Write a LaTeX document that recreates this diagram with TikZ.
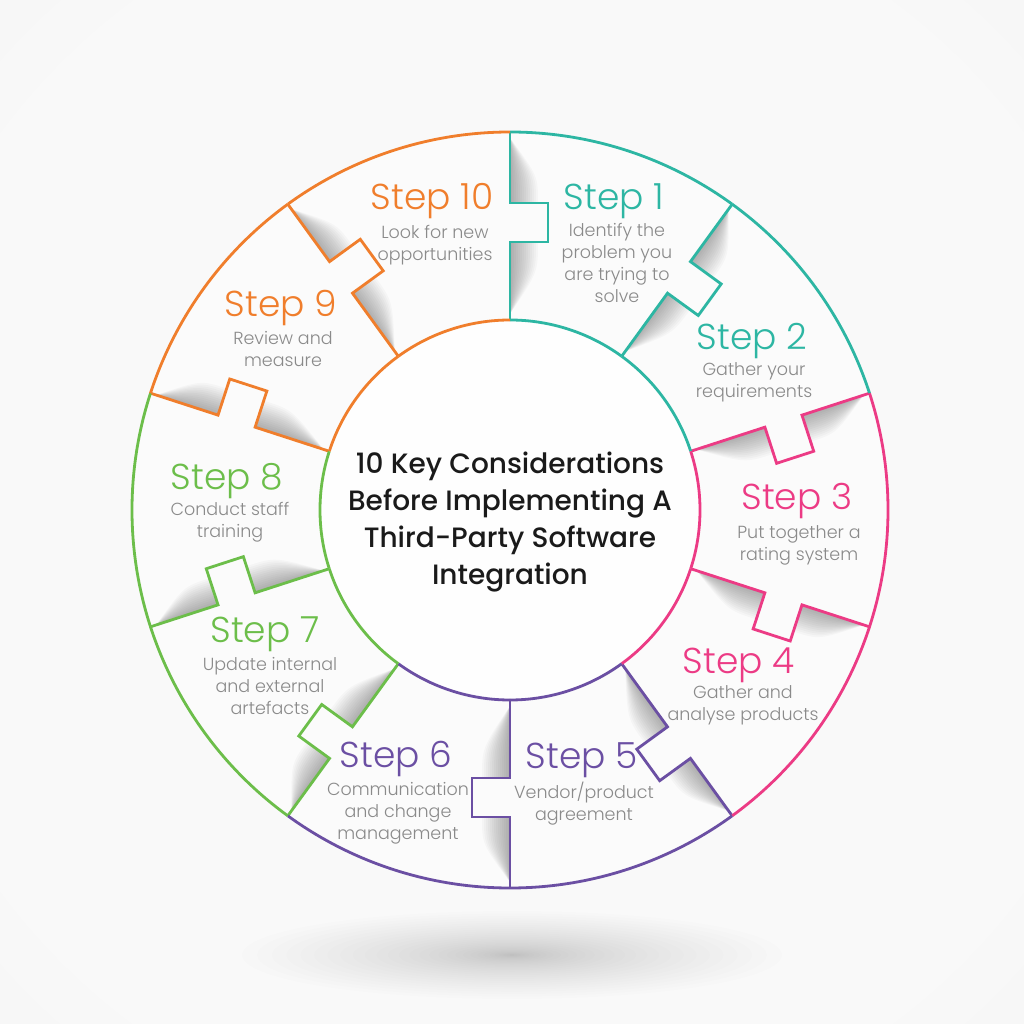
\documentclass[tikz,border=0pt]{standalone}
\usepackage{fontspec}
\setmainfont{Poppins}
\newfontfamily\poplight{Poppins Light}
\newfontfamily\popmed{Poppins Medium}
\definecolor{cteal}{HTML}{2DB6A3}
\definecolor{cpink}{HTML}{EC3B85}
\definecolor{cpurple}{HTML}{6B4FA3}
\definecolor{cgreen}{HTML}{6CBE4A}
\definecolor{corange}{HTML}{F07E2C}
\definecolor{descgray}{HTML}{8A8A8A}
\definecolor{titleblack}{HTML}{1A1A1A}
\definecolor{bgin}{HTML}{F9F9F9}
\definecolor{bgmid}{HTML}{F0F0F0}
\definecolor{bgout}{HTML}{E0E0E0}
\pgfdeclareradialshading{bgshade}{\pgfpoint{0bp}{0bp}}{color(0bp)=(bgin); color(30bp)=(bgin); color(50bp)=(bgmid); color(71bp)=(bgout)}
\begin{document}
\begin{tikzpicture}[x=1pt,y=1pt,
  ring/.style={line width=2.8pt},
  steplabel/.style={font=\poplight\fontsize{36}{40}\selectfont, anchor=base, inner sep=0pt},
  desc/.style={font=\poplight\fontsize{17.5}{22}\selectfont, text=descgray, align=center, anchor=north, inner sep=0pt},
  titletext/.style={font=\popmed\fontsize{28}{37}\selectfont, text=titleblack, align=center, anchor=north, inner sep=0pt},
  shadowpiece/.style={fill=black, opacity=0.022},
  floorpiece/.style={fill=black, opacity=0.009}
]
\useasboundingbox (-510,-514) rectangle (514,510);
\shade[shading=bgshade] (-510,-514) rectangle (514,510);
% floor shadow
\foreach \i in {1,...,30} {
  \pgfmathsetmacro\fr{(\i/30)^1.7}
  \fill[floorpiece] (2,-445) ellipse ({270*\fr} and {44*\fr});
}
% ring and centre fills
\fill[white, opacity=0.45] (0,0) circle (378);
\fill[white, opacity=0.85] (0,0) circle (190);
% divider shadows
\foreach \k in {0,...,9} {
  \pgfmathsetmacro\ang{90-36*\k}
  \begin{scope}[rotate=\ang]
    \foreach \w in {2,4,...,28} {
      \fill[shadowpiece] (268,-\w) .. controls (238,-\w) .. (196,0) -- (268,0) -- cycle;
      \fill[shadowpiece] (307,-\w) .. controls (334,-\w) .. (372,0) -- (307,0) -- cycle;
    }
  \end{scope}
}
% dividers with puzzle tabs
\foreach \k/\c in {0/cteal,1/cteal,2/cpink,3/cpink,4/cpurple,5/cpurple,6/cgreen,7/cgreen,8/corange,9/corange} {
  \pgfmathsetmacro\ang{90-36*\k}
  \begin{scope}[rotate=\ang]
    \draw[ring, draw=\c] (190,0) -- (268,0) -- (268,-38) -- (307,-38) -- (307,0) -- (378,0);
  \end{scope}
}
% outer and inner arcs
\foreach \s/\c in {1/cteal,2/cteal,3/cpink,4/cpink,5/cpurple,6/cpurple,7/cgreen,8/cgreen,9/corange,10/corange} {
  \pgfmathsetmacro\a{90-36*(\s-1)}
  \pgfmathsetmacro\b{90-36*\s}
  \draw[ring, draw=\c] (\a:378) arc[start angle=\a, end angle=\b, radius=378];
  \draw[ring, draw=\c] (\a:190) arc[start angle=\a, end angle=\b, radius=190];
}
% title
\node[titletext] (title) at (0,62.9) {\strut 10 Key Considerations\\Before Implementing A\\Third-Party Software\\Integration};
% step labels
\node[steplabel, text=cteal] (s1) at (104,300) {Step 1};
\node[desc] (d1) at (107,289.4) {\strut Identify the\\problem you\\are trying to\\solve};
\node[steplabel, text=cteal] (s2) at (242,160) {Step 2};
\node[desc] (d2) at (244,150.4) {\strut Gather your\\requirements};
\node[steplabel, text=cpink] (s3) at (287,0) {Step 3};
\node[desc] (d3) at (289,-12.6) {\strut Put together a\\rating system};
\node[steplabel, text=cpink] (s4) at (229,-163) {Step 4};
\node[desc] (d4) at (233,-172.6) {\strut Gather and\\analyse products};
\node[steplabel, text=cpurple] (s5) at (72,-258) {Step 5};
\node[desc] (d5) at (74,-271.6) {\strut Vendor/product\\agreement};
\node[steplabel, text=cpurple] (s6) at (-114,-257) {Step 6};
\node[desc] (d6) at (-112,-269.6) {\strut Communication\\and change\\management};
\node[steplabel, text=cgreen] (s7) at (-245,-132) {Step 7};
\node[desc] (d7) at (-240,-144.6) {\strut Update internal\\and external\\artefacts};
\node[steplabel, text=cgreen] (s8) at (-283,20) {Step 8};
\node[desc] (d8) at (-280,10.4) {\strut Conduct staff\\training};
\node[steplabel, text=corange] (s9) at (-229,193) {Step 9};
\node[desc] (d9) at (-227,181.4) {\strut Review and\\measure};
\node[steplabel, text=corange] (s10) at (-78,300) {Step 10};
\node[desc] (d10) at (-75,287.4) {\strut Look for new\\opportunities};
\end{tikzpicture}
\end{document}
